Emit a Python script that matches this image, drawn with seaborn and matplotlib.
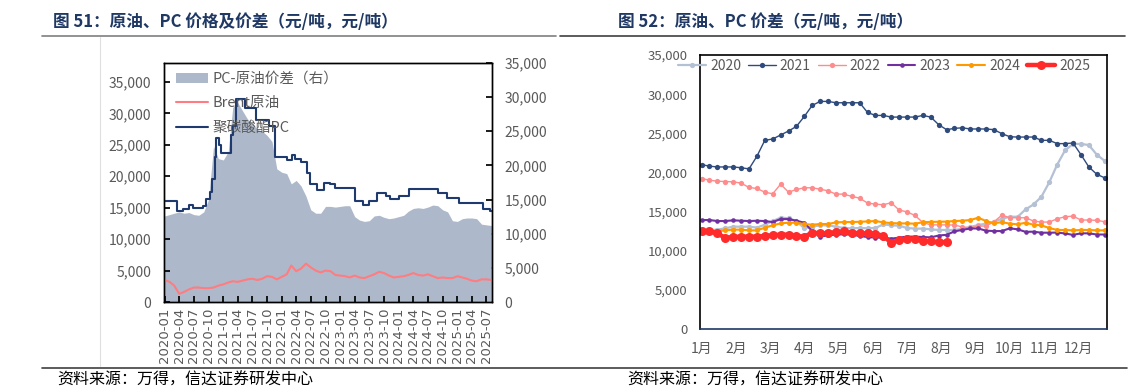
import pandas as pd
import matplotlib
matplotlib.use("Agg")
import matplotlib.pyplot as plt
import matplotlib.dates as mdates
from matplotlib.lines import Line2D
from matplotlib.patches import Patch
from matplotlib.ticker import FuncFormatter
import seaborn as sns

sns.set_theme(style="white")
plt.rcParams['font.family'] = ['Noto Sans CJK SC', 'DejaVu Sans']
plt.rcParams['axes.unicode_minus'] = False

GRAY = "#595959"

# ---------- 图51 data (monthly, 2020-01 .. 2025-08) ----------
months = pd.date_range("2020-01-01", "2025-08-01", freq="MS")
brent = [3500, 3200, 2600, 1300, 1600, 2000, 2300, 2300, 2200, 2200, 2300, 2600,
         2800, 3100, 3300, 3200, 3400, 3600, 3700, 3500, 3700, 4100, 4000, 3600,
         4000, 4400, 5800, 4900, 5300, 6100, 5500, 5000, 4700, 5000, 4900, 4300,
         4200, 4100, 3900, 4200, 3900, 3800, 4100, 4400, 4800, 4600, 4200, 3900,
         4000, 4100, 4300, 4600, 4300, 4200, 4400, 4100, 3800, 3900, 3800, 3800,
         4100, 3900, 3700, 3400, 3300, 3600, 3600, 3500]
spread = [12600, 12800, 13000, 13200, 13000, 13100, 12800, 12700, 13200, 15000, 22800, 21000,
          20800, 22000, 28500, 29200, 28000, 26800, 26200, 25300, 25000, 24400, 23500, 19500,
          19000, 18800, 17300, 17800, 17000, 15500, 13500, 13000, 13000, 14000, 14000, 13900,
          14000, 14100, 14100, 12500, 12000, 11800, 11900, 12600, 12700, 12400, 12200, 12300,
          12500, 12700, 13300, 13700, 13800, 13700, 13900, 14200, 14100, 13500, 13200, 11900,
          11800, 12200, 12300, 12300, 12200, 11400, 11300, 11200]

# PC price changes (step series)
pc_dates = pd.to_datetime([
    "2020-01-01", "2020-03-17", "2020-04-27", "2020-06-03", "2020-06-29", "2020-08-27",
    "2020-09-18", "2020-10-08", "2020-10-24", "2020-11-08", "2020-11-19", "2020-12-05",
    "2020-12-16", "2021-02-16", "2021-03-03", "2021-03-22", "2021-05-19", "2021-07-22",
    "2021-10-13", "2021-11-19", "2022-02-03", "2022-03-08", "2022-03-22", "2022-05-04",
    "2022-06-07", "2022-06-28", "2022-08-06", "2022-09-22", "2022-10-28", "2022-12-01",
    "2023-04-03", "2023-05-24", "2023-07-01", "2023-08-16", "2023-10-13", "2023-11-07",
    "2024-01-05", "2024-03-07", "2024-09-05", "2024-10-28", "2025-01-09", "2025-06-09",
    "2025-07-25", "2025-08-05"])
pc_price = [16000, 14500, 14800, 15500, 15000, 15300,
            16300, 17500, 19500, 23000, 26100, 25000,
            23700, 26500, 28000, 32300, 30800, 28900,
            28000, 23000, 22500, 23300, 22800, 22200,
            20500, 18800, 17800, 19000, 18700, 18100,
            16000, 15500, 16000, 17300, 16800, 16300,
            16800, 18000, 17300, 16500, 15700, 14800,
            14500, 14500]

# ---------- 图52 data (weekly, 52 points per year) ----------
month_labels = ["1月", "2月", "3月", "4月", "5月", "6月", "7月", "8月", "9月", "10月", "11月", "12月"]
years = ["2020", "2021", "2022", "2023", "2024", "2025"]
y2020 = [12500, 12600, 12700, 12860, 13070, 13070, 13070, 12950, 13320, 13790,
         14220, 14150, 13790, 12860, 13070, 13240, 13240, 13070, 12900, 12860,
         12900, 12860, 12900, 13370, 13240, 13200, 12900, 12820, 12820, 12730,
         12650, 12650, 12650, 12800, 13030, 13280, 13450, 13700, 14080, 14340,
         14340, 15280, 15910, 16890, 18750, 21000, 22830, 23640, 23640, 23500, 22280, 21480]
y2021 = [21000, 20800, 20700, 20700, 20700, 20600, 20450, 22060, 24100, 24270,
         24780, 25290, 25880, 27150, 28560, 29070, 29070, 28900, 28900, 28900,
         28900, 27660, 27280, 27280, 27070, 27070, 27070, 27070, 27280, 27070,
         26100, 25460, 25630, 25700, 25550, 25550, 25550, 25460, 24950, 24560,
         24520, 24520, 24520, 24100, 24100, 23680, 23680, 23760, 22280, 20700, 19770, 19310]
y2022 = [19220, 19010, 18880, 18840, 18800, 18630, 18080, 17950, 17480, 17270,
         18500, 17480, 17820, 18040, 18040, 17860, 17650, 17230, 17230, 16930,
         16720, 16080, 15950, 15870, 16130, 15190, 14960, 14500, 13600, 13300,
         13300, 13300, 13280, 13030, 12940, 13150, 13150, 13700, 14550, 14210,
         14210, 14210, 13790, 13660, 13660, 14080, 14340, 14420, 13920, 13920, 13880, 13700]
y2023 = [13920, 13920, 13790, 13790, 13880, 13830, 13790, 13830, 13790, 13660,
         14040, 14040, 13830, 13580, 12500, 11800, 11970, 12050, 12100, 12050,
         11880, 11750, 11670, 11670, 11540, 11670, 11800, 11800, 11750, 11700,
         11940, 12030, 12470, 12660, 12840, 12840, 12560, 12510, 12510, 12860,
         12730, 12410, 12430, 12300, 12300, 12320, 12200, 12020, 12220, 12220, 12070, 12070]
y2024 = [12500, 12430, 12510, 12600, 12690, 12690, 12600, 12600, 12940, 13240,
         13490, 13580, 13560, 13410, 13320, 13410, 13410, 13620, 13660, 13660,
         13700, 13740, 13790, 13620, 13530, 13490, 13490, 13450, 13640, 13680,
         13700, 13720, 13790, 13830, 13920, 14210, 13790, 13490, 13660, 13450,
         13370, 13580, 13320, 13240, 12900, 12650, 12650, 12600, 12650, 12650, 12600, 12600]
y2025 = [12510, 12470, 12220, 11630, 11750, 11800, 11800, 11800, 11880, 11970,
         12050, 12050, 11880, 11800, 12300, 12220, 12220, 12390, 12470, 12300,
         12220, 12220, 12180, 11880, 11030, 11380, 11540, 11540, 11200, 11200, 11070, 11120]
series = [y2020, y2021, y2022, y2023, y2024, y2025]
colors = ["#B4C0D4", "#2F4B7C", "#FF8C8C", "#7030A0", "#FF9900", "#FF2A2A"]
widths = [1.6, 1.0, 1.0, 1.5, 1.5, 3.2]
msizes = [3.8, 3.8, 3.8, 3.3, 3.6, 6.5]

fig = plt.figure(figsize=(11.37, 3.91), dpi=100)

# ===== left chart =====
ax = fig.add_axes([164 / 1137, 1 - 302 / 391, 328 / 1137, 239 / 391])
ax_r = ax.twinx()
ax_r.fill_between(months, spread, 0, color="#ADB9CA", linewidth=0)
ax_r.set_ylim(0, 35000)
ax.set_zorder(ax_r.get_zorder() + 1)
ax.patch.set_visible(False)

sns.lineplot(x=months, y=brent, ax=ax, color="#FF7C80", linewidth=1.5)
sns.lineplot(x=pc_dates, y=pc_price, ax=ax, color="#1F3A6E", linewidth=1.5,
             drawstyle="steps-post")
ax.set_ylim(0, 38000)
ax.set_xlim(pd.Timestamp("2019-12-28"), pd.Timestamp("2025-08-05"))
ax.set_yticks(range(0, 35001, 5000))
ax_r.set_yticks(range(0, 35001, 5000))
fmt = FuncFormatter(lambda v, p: f"{int(v):,}")
ax.yaxis.set_major_formatter(fmt)
ax_r.yaxis.set_major_formatter(fmt)
ax.xaxis.set_major_locator(mdates.MonthLocator(bymonth=[1, 4, 7, 10]))
ax.xaxis.set_major_formatter(mdates.DateFormatter("%Y-%m"))
ax.tick_params(axis="x", rotation=90, direction="in", length=4, color="black",
               labelsize=9.5, labelcolor=GRAY, pad=4, bottom=True)
ax.tick_params(axis="y", direction="in", length=4, color="black",
               labelsize=10, labelcolor=GRAY, pad=9, left=True)
ax_r.tick_params(axis="y", direction="in", length=4, color="black",
                 labelsize=10, labelcolor=GRAY, pad=9, right=True)
for s in ax.spines.values():
    s.set_color("black")
    s.set_linewidth(1.0)
for s in ax_r.spines.values():
    s.set_color("black")
    s.set_linewidth(1.0)
ax.set_xlabel("")
ax.set_ylabel("")
for lab in ax.get_xticklabels():
    lab.set_family(["DejaVu Sans"])

handles = [Patch(facecolor="#ADB9CA", edgecolor="none"),
           Line2D([], [], color="#FF7C80", lw=1.5),
           Line2D([], [], color="#1F3A6E", lw=1.5)]
ax.legend(handles, ["PC-原油价差（右）", "Brent原油", "聚碳酸酯PC"],
          loc="upper left", bbox_to_anchor=(0.01, 1.0), frameon=False,
          fontsize=10.5, labelcolor=GRAY, handlelength=2.2, handletextpad=0.3,
          labelspacing=0.72, borderaxespad=0.2)

# ===== right chart =====
ax2 = fig.add_axes([700 / 1137, 1 - 329 / 391, 407 / 1137, 274 / 391])
for yr, vals, c, lw, ms in zip(years, series, colors, widths, msizes):
    sns.lineplot(x=list(range(len(vals))), y=vals, ax=ax2, color=c, linewidth=lw,
                 marker="o", markersize=ms, markeredgewidth=0, label=yr)
ax2.set_xlim(-0.2, 51.3)
ax2.set_ylim(0, 35000)
ax2.set_yticks(range(0, 35001, 5000))
ax2.yaxis.set_major_formatter(fmt)
ax2.set_xticks([m * 52 / 12 for m in range(12)])
ax2.set_xticklabels(month_labels)
ax2.tick_params(axis="y", length=0, labelsize=9.5, labelcolor=GRAY, pad=9)
ax2.tick_params(axis="x", length=0, labelsize=10, labelcolor=GRAY, pad=9)
for s in ax2.spines.values():
    s.set_color("black")
    s.set_linewidth(1.2)
ax2.spines["bottom"].set_color("#1F3864")
ax2.legend(loc="center left", bbox_to_anchor=(678 / 1137, 1 - 66 / 391),
           bbox_transform=fig.transFigure, ncol=6, frameon=False, fontsize=10,
           labelcolor=GRAY, handlelength=2.0, handletextpad=0.3, columnspacing=0.5,
           borderpad=0, borderaxespad=0)

# ===== titles, rules, sources =====
fig.text(53 / 1137, 1 - 22 / 391, "图 51：原油、PC 价格及价差（元/吨，元/吨）",
         fontsize=12, fontweight="bold", color="#1F3864", va="center")
fig.text(618 / 1137, 1 - 22 / 391, "图 52：原油、PC 价差（元/吨，元/吨）",
         fontsize=12, fontweight="bold", color="#1F3864", va="center")
fig.add_artist(Line2D([42 / 1137, 556 / 1137], [1 - 36 / 391] * 2, color="#7F7F7F", lw=1.2))
fig.add_artist(Line2D([560 / 1137, 1125 / 1137], [1 - 36 / 391] * 2, color="#404040", lw=1.2))
fig.add_artist(Line2D([42 / 1137, 1127 / 1137], [1 - 368 / 391] * 2, color="#404040", lw=1.2))
fig.add_artist(Line2D([100 / 1137] * 2, [1 - 366 / 391, 1 - 37 / 391], color="#E0E0E0", lw=0.8))
fig.text(57 / 1137, 1 - 380 / 391, "资料来源：万得，信达证券研发中心", fontsize=11.5,
         color="black", va="center")
fig.text(627 / 1137, 1 - 380 / 391, "资料来源：万得，信达证券研发中心", fontsize=11.5,
         color="black", va="center")

fig.savefig("out.png", dpi=100)
